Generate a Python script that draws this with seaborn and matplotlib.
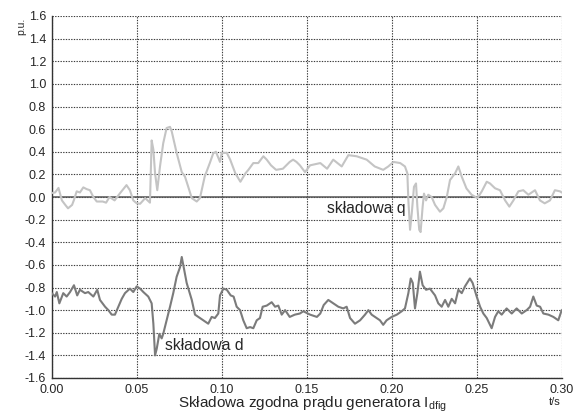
import matplotlib
matplotlib.use("Agg")
import matplotlib.pyplot as plt
import seaborn as sns
import pandas as pd

q_t = [0.000, 0.002, 0.004, 0.006, 0.008, 0.0096, 0.012, 0.013, 0.0147, 0.0166, 0.0186, 0.0205, 0.0225,
       0.0245, 0.0265, 0.030, 0.032, 0.034, 0.037, 0.040, 0.044, 0.046, 0.048, 0.050, 0.052, 0.055, 0.0578,
       0.0588, 0.0598, 0.0608, 0.0621, 0.0637, 0.0656, 0.0676, 0.0696, 0.0706, 0.0735, 0.0765, 0.0784, 0.080,
       0.0824, 0.0853, 0.0872, 0.090, 0.093, 0.095, 0.0966, 0.099, 0.100, 0.103, 0.105, 0.108, 0.111, 0.114,
       0.1157, 0.1186, 0.1215, 0.1245, 0.1265, 0.129, 0.132, 0.136, 0.140, 0.142, 0.144, 0.146, 0.149, 0.152,
       0.158, 0.162, 0.1656, 0.1706, 0.1745, 0.1794, 0.1853, 0.190, 0.195, 0.198, 0.201, 0.205, 0.2078, 0.2092,
       0.2098, 0.2108, 0.2118, 0.2131, 0.2143, 0.2151, 0.2162, 0.2170, 0.2182, 0.2190, 0.2202, 0.2215, 0.2235,
       0.2255, 0.2284, 0.2304, 0.2324, 0.2343, 0.2373, 0.2392, 0.2412, 0.244, 0.247, 0.2504, 0.253, 0.2559,
       0.2578, 0.2608, 0.2637, 0.2667, 0.2692, 0.2716, 0.2745, 0.2774, 0.2804, 0.2843, 0.2872, 0.290, 0.2931,
       0.296, 0.299, 0.300]
q_v = [0.035, 0.04, 0.08, -0.03, -0.07, -0.10, -0.07, -0.03, 0.05, 0.04, 0.085, 0.07, 0.06,
       0.0, -0.04, -0.04, -0.05, 0.0, -0.03, 0.03, 0.105, 0.06, -0.03, -0.056, -0.06, -0.01, -0.05,
       0.50, 0.42, 0.21, 0.06, 0.27, 0.475, 0.61, 0.62, 0.58, 0.39, 0.22, 0.18, 0.105,
       -0.01, -0.04, -0.01, 0.18, 0.30, 0.385, 0.40, 0.31, 0.39, 0.39, 0.33, 0.21, 0.135, 0.21,
       0.24, 0.30, 0.30, 0.36, 0.33, 0.28, 0.24, 0.25, 0.31, 0.33, 0.31, 0.28, 0.22, 0.28,
       0.30, 0.25, 0.33, 0.27, 0.37, 0.36, 0.33, 0.27, 0.24, 0.27, 0.31, 0.30, 0.27, 0.21,
       -0.03, -0.29, -0.145, 0.09, 0.12, -0.085, -0.29, -0.31, -0.085, 0.03, -0.03, 0.02, 0.0,
       -0.07, -0.13, -0.10, 0.0, 0.15, 0.21, 0.27, 0.18, 0.075, 0.02, -0.01, 0.05, 0.135,
       0.12, 0.077, 0.06, -0.03, -0.085, -0.03, 0.05, 0.06, 0.02, 0.06, -0.03, -0.056, -0.03,
       0.06, 0.05, 0.04]

d_t = [0.000, 0.002, 0.003, 0.0045, 0.0068, 0.0088, 0.0108, 0.0131, 0.015, 0.0166, 0.0196, 0.0215, 0.0245,
       0.0268, 0.0284, 0.0314, 0.0333, 0.0353, 0.0372, 0.0392, 0.0412, 0.0431, 0.046, 0.048, 0.050, 0.052,
       0.0539, 0.0568, 0.0588, 0.0598, 0.0608, 0.0618, 0.0633, 0.0647, 0.0656, 0.0676, 0.0696, 0.0715, 0.0735,
       0.0755, 0.0765, 0.0774, 0.0794, 0.0824, 0.0843, 0.0872, 0.090, 0.0921, 0.0941, 0.096, 0.098, 0.099,
       0.101, 0.103, 0.1053, 0.107, 0.1088, 0.1108, 0.1127, 0.1147, 0.1167, 0.1186, 0.1206, 0.1225, 0.1241,
       0.1265, 0.1294, 0.1314, 0.1333, 0.1353, 0.1373, 0.140, 0.143, 0.146, 0.148, 0.152, 0.156, 0.158, 0.160,
       0.1627, 0.1656, 0.1686, 0.1715, 0.1735, 0.1755, 0.1784, 0.1814, 0.1843, 0.1863, 0.1882, 0.1912, 0.1931,
       0.195, 0.197, 0.200, 0.203, 0.2059, 0.2078, 0.2098, 0.2112, 0.2124, 0.2137, 0.2151, 0.2166, 0.2182,
       0.2202, 0.2225, 0.2255, 0.2274, 0.2294, 0.2314, 0.2333, 0.2353, 0.2373, 0.2392, 0.2412, 0.2431, 0.246,
       0.2476, 0.250, 0.252, 0.2539, 0.2559, 0.2578, 0.2588, 0.2608, 0.2627, 0.2647, 0.2676, 0.2706, 0.2735,
       0.2765, 0.2794, 0.2814, 0.2833, 0.2853, 0.2873, 0.2892, 0.2922, 0.2951, 0.298, 0.300]
d_v = [-0.85, -0.88, -0.84, -0.94, -0.85, -0.88, -0.84, -0.78, -0.87, -0.82, -0.85, -0.84, -0.88,
       -0.82, -0.91, -0.97, -1.00, -1.04, -1.04, -0.97, -0.90, -0.85, -0.81, -0.84, -0.79, -0.81,
       -0.84, -0.88, -0.94, -1.12, -1.40, -1.34, -1.21, -1.25, -1.21, -1.09, -0.97, -0.85, -0.705,
       -0.62, -0.53, -0.60, -0.76, -0.91, -1.04, -1.07, -1.10, -1.12, -1.06, -1.07, -1.03, -0.87,
       -0.81, -0.82, -0.87, -0.88, -0.97, -1.00, -1.09, -1.16, -1.15, -1.16, -1.09, -1.07, -0.97,
       -0.96, -0.93, -0.97, -0.96, -1.04, -1.00, -1.06, -1.04, -1.03, -1.01, -1.04, -1.06, -1.03, -0.955,
       -0.91, -0.94, -0.97, -0.985, -0.97, -1.07, -1.12, -1.09, -1.04, -1.00, -1.04, -1.07, -1.09,
       -1.13, -1.09, -1.06, -1.04, -1.01, -0.985, -0.85, -0.72, -0.76, -0.985, -0.85, -0.66, -0.78,
       -0.82, -0.81, -0.87, -0.94, -0.97, -0.91, -0.97, -0.90, -0.94, -0.82, -0.85, -0.79, -0.72,
       -0.76, -0.88, -0.97, -1.03, -1.07, -1.13, -1.16, -1.06, -1.01, -1.04, -0.985, -1.03, -0.985,
       -1.03, -1.00, -0.97, -0.88, -0.96, -0.97, -1.03, -1.04, -1.06, -1.09, -1.00]

x_ticks = [0.00, 0.05, 0.10, 0.15, 0.20, 0.25, 0.30]
x_tick_labels = ["0.00", "0.05", "0.10", "0.15", "0.20", "0.25", "0.30"]
y_ticks = [-1.6, -1.4, -1.2, -1.0, -0.8, -0.6, -0.4, -0.2, 0.0, 0.2, 0.4, 0.6, 0.8, 1.0, 1.2, 1.4, 1.6]

sns.set_style("white")
plt.rcParams["font.family"] = ["Liberation Sans", "DejaVu Sans"]
plt.rcParams["mathtext.fontset"] = "custom"
plt.rcParams["mathtext.rm"] = "Liberation Sans"
plt.rcParams["mathtext.it"] = "Liberation Sans"

fig = plt.figure(figsize=(5.74, 4.16), dpi=100)
ax = fig.add_axes([51.7 / 574, 1 - 378 / 416, (561.7 - 51.7) / 574, (378 - 16) / 416])

txt = "#262626"
ax.grid(True, which="major", color="#3a3a3a", linestyle=(0, (1.2, 1.2)), linewidth=0.8)
ax.axhline(0, color="#555555", linewidth=1.1, zorder=2)

dq = pd.DataFrame({"t": q_t, "v": q_v})
dd = pd.DataFrame({"t": d_t, "v": d_v})
sns.lineplot(data=dq, x="t", y="v", ax=ax, color="#c4c4c4", linewidth=1.5, sort=False, estimator=None, zorder=3)
sns.lineplot(data=dd, x="t", y="v", ax=ax, color="#7b7b7b", linewidth=1.5, sort=False, estimator=None, zorder=3)

ax.set_xlim(0, 0.30)
ax.set_ylim(-1.6, 1.6)
ax.set_xticks(x_ticks)
ax.set_xticklabels(x_tick_labels)
ax.set_yticks(y_ticks)
ax.set_yticklabels([f"{v:.1f}" for v in y_ticks])
ax.tick_params(axis="both", direction="out", length=2.5, width=0.8, color="#333333",
               labelsize=9, labelcolor=txt, pad=1.5)
ax.set_xlabel("")
ax.set_ylabel("")

for s in ["top", "right"]:
    ax.spines[s].set_visible(False)
for s in ["left", "bottom"]:
    ax.spines[s].set_color("#333333")
    ax.spines[s].set_linewidth(1.0)

ax.text(0.162, -0.1, "składowa q", fontsize=11.3, color=txt, va="center", ha="left", zorder=5)
ax.text(0.0667, -1.31, "składowa d", fontsize=11.3, color=txt, va="center", ha="left", zorder=5)

fig.text(312 / 574, 1 - 408 / 416, r"Składowa zgodna prądu generatora I$_{\mathrm{dfig}}$",
         fontsize=11, color=txt, ha="center", va="baseline")
fig.text(555 / 574, 1 - 402 / 416, "t/s", fontsize=8, color=txt, ha="center", va="center")
fig.text(21 / 574, 1 - 26 / 416, "p.u.", fontsize=7.5, color=txt, ha="center", va="center", rotation=90)

fig.savefig("out.png", dpi=100)
